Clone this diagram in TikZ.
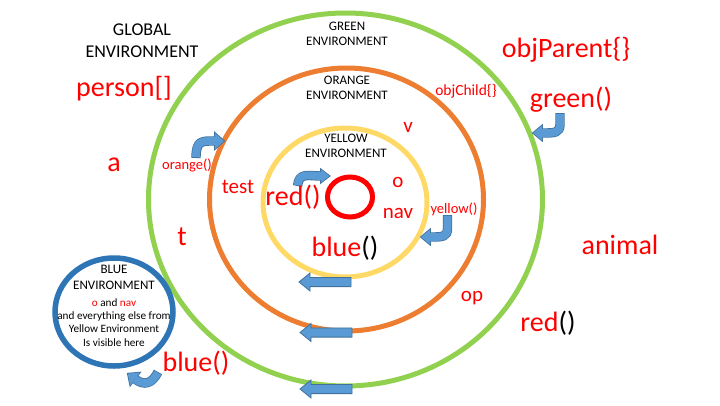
\documentclass[tikz,border=0pt]{standalone}
\usepackage{fontspec}
\setmainfont{Carlito}
\definecolor{ringgreen}{HTML}{92D050}
\definecolor{ringorange}{HTML}{ED7D31}
\definecolor{ringyellow}{HTML}{FFD966}
\definecolor{ringblue}{HTML}{2E75B6}
\definecolor{arrblue}{HTML}{5B9BD5}
\definecolor{arrdark}{HTML}{41719C}
\newcommand\myBentArrow[2]{%
  \draw[arrdark, line width=9.4pt] #1;
  \filldraw[arrdark, line width=1.6pt, line join=miter] #2;
  \draw[arrblue, line width=7.8pt, shorten <=0.8pt] #1;
  \fill[arrblue] #2;}
\tikzset{
  ring/.style={line width=5pt},
  lbl/.style={text=black, align=center, inner sep=0pt, font=\fontsize{13}{15.5}\selectfont},
  bigtxt/.style={text=red, inner sep=0pt, font=\fontsize{28}{32}\selectfont},
  midtxt/.style={text=red, inner sep=0pt, font=\fontsize{21}{24}\selectfont},
  smalltxt/.style={text=red, inner sep=0pt, font=\fontsize{14.5}{17}\selectfont},
  larrow/.pic={\filldraw[fill=arrblue, draw=arrdark, line width=0.8pt]
     (0,0) -- (11,-9) -- (11,-4.6) -- (52,-4.6) -- (52,4.6) -- (11,4.6) -- (11,9) -- cycle;}
}
\begin{document}
\begin{tikzpicture}[x=1pt,y=-1pt]
\useasboundingbox (0,0) rectangle (720,405);
\fill[white] (0,0) rectangle (720,405);

% rings
\draw[ring, ringgreen] (345.5,199.5) ellipse [x radius=197pt, y radius=186.5pt];
\draw[ring, ringorange] (346.5,199.5) ellipse [x radius=137pt, y radius=131.5pt];
\draw[ring, ringyellow] (345,202.5) ellipse [x radius=82pt, y radius=74.5pt];
\draw[ring, red] (350,197) ellipse [x radius=22.5pt, y radius=20pt];
\draw[line width=5.5pt, ringblue] (114,312) ellipse [x radius=59pt, y radius=54pt];

% straight arrows
\pic at (299,282) {larrow};
\pic at (300,332.5) {larrow};
\pic at (300,389) {larrow};

% bent arrows
\myBentArrow{(196,158) .. controls (196,140) and (202,141) .. (215,141)}{(215,133) -- (224,141) -- (215,149) -- cycle}
\myBentArrow{(297.5,186) .. controls (299,172) and (308,176) .. (321,176)}{(321,169.5) -- (329.5,176) -- (321,182.5) -- cycle}
\myBentArrow{(447.5,215) -- (447.5,228) .. controls (447.5,237) and (443,237) .. (430,237)}{(430,229.5) -- (421,237) -- (430,244.5) -- cycle}
\myBentArrow{(560,113) -- (560,124) .. controls (560,133) and (555,133) .. (542,133)}{(542,125.5) -- (533,133) -- (542,140.5) -- cycle}
\myBentArrow{(158,372) .. controls (152,384) and (144,386) .. (135,379)}{(139.8,372.6) -- (127.8,373.6) -- (130.2,385.4) -- cycle}

% labels
\node[lbl, font=\fontsize{18}{22}\selectfont] (global) at (142,41) {GLOBAL\\ENVIRONMENT};
\node[lbl] (greenlbl) at (347,34) {GREEN\\ENVIRONMENT};
\node[lbl] (orangelbl) at (347,88) {ORANGE\\ENVIRONMENT};
\node[lbl] (yellowlbl) at (346,146) {YELLOW\\ENVIRONMENT};
\node[lbl] (bluelbl) at (114,277.5) {BLUE\\ENVIRONMENT};
\node[lbl, font=\fontsize{11.2}{13.2}\selectfont] (bluebody) at (114,322.5)
  {\textcolor{red}{o} and \textcolor{red}{nav}\\and everything else from\\Yellow Environment\\Is visible here};

% big red texts
\node[bigtxt] (person) at (124,88.5) {person[]};
\node[bigtxt] (objparent) at (566,50) {objParent\{\}};
\node[bigtxt] (greenfn) at (571,100) {green()};
\node[bigtxt] (a) at (114,165) {a};
\node[bigtxt] (t) at (182,237) {t};
\node[bigtxt] (animal) at (620,245) {animal};
\node[bigtxt] (redfn) at (548,323) {red\textcolor{black}{()}};
\node[bigtxt] (bluefn) at (196,363) {blue()};
\node[bigtxt] (bluecall) at (345,248) {blue\textcolor{black}{()}};
\node[bigtxt] (redcall) at (293,197) {red()};

% medium red texts
\node[midtxt] (test) at (238,187) {test};
\node[midtxt] (o) at (398,182) {o};
\node[midtxt] (nav) at (398,213) {nav};
\node[midtxt] (v) at (408,127) {v};
\node[midtxt] (op) at (472,298) {op};

% small red texts
\node[smalltxt, font=\fontsize{15.5}{18}\selectfont] (objchild) at (466,91) {objChild\{\}};
\node[smalltxt] (orangefn) at (187,165) {orange()};
\node[smalltxt] (yellowfn) at (454,209) {yellow()};
\end{tikzpicture}
\end{document}
